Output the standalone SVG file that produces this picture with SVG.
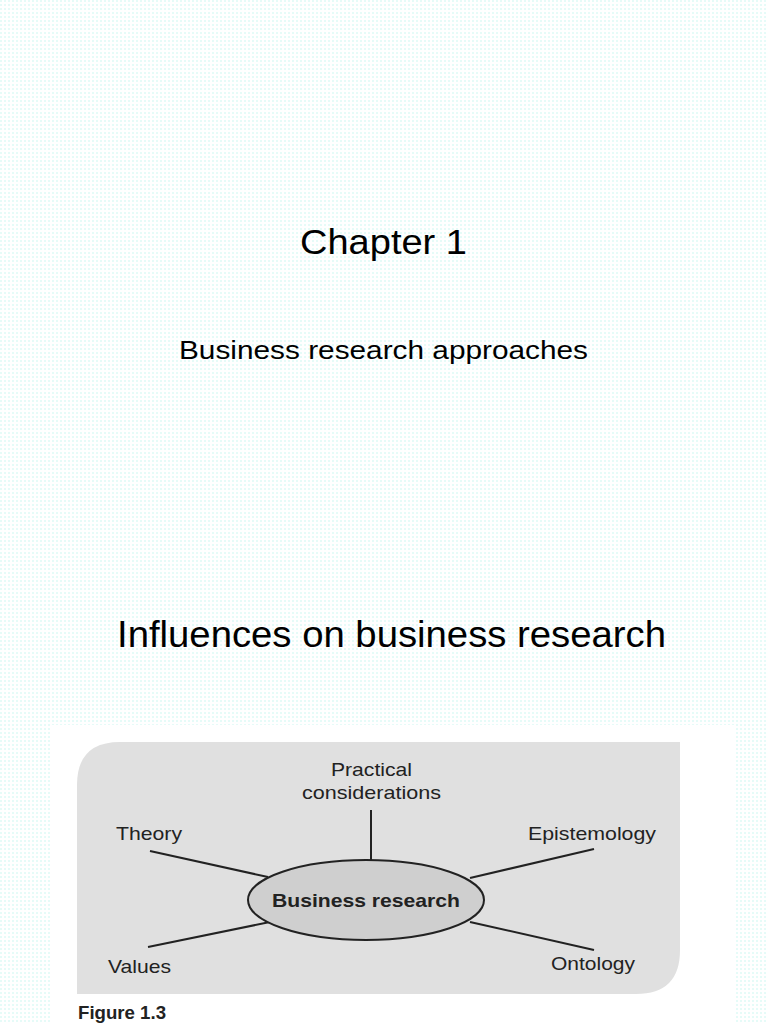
<svg xmlns="http://www.w3.org/2000/svg" width="768" height="1024" viewBox="0 0 768 1024">
<defs>
<pattern id="dots" width="4" height="4" patternUnits="userSpaceOnUse"><rect width="4" height="4" fill="#ffffff"/><rect width="2" height="2" fill="#e6fbf8"/></pattern>
<style>
.t{font-family:"Liberation Sans",Arial,sans-serif;fill:#000}
.f{font-family:"Liberation Sans",Arial,sans-serif;fill:#222;font-size:19px}
.c{stroke:#222;stroke-width:2;fill:none}
</style>
</defs>
<rect width="768" height="1024" fill="url(#dots)"/>
<text class="t" x="300" y="254" font-size="35" textLength="167" lengthAdjust="spacingAndGlyphs">Chapter 1</text>
<text class="t" x="179" y="359" font-size="26" textLength="409" lengthAdjust="spacingAndGlyphs">Business research approaches</text>
<text class="t" x="117" y="647" font-size="36" textLength="549" lengthAdjust="spacingAndGlyphs">Influences on business research</text>
<rect x="52" y="725" width="684" height="299" fill="#ffffff"/>
<path d="M120 742 H680 V950 Q680 994 636 994 H77 V785 Q77 742 120 742 Z" fill="#e0e0e0"/>
<g id="connectors">
<line class="c" x1="371" y1="810" x2="371" y2="860"/>
<line class="c" x1="150" y1="851" x2="268" y2="877"/>
<line class="c" x1="594" y1="849" x2="470" y2="878"/>
<line class="c" x1="148" y1="947" x2="270" y2="922"/>
<line class="c" x1="594" y1="950" x2="470" y2="922"/>
</g>
<g id="center"><ellipse cx="366" cy="900" rx="118" ry="40" fill="#cfcfcf" stroke="#222" stroke-width="2"/>
<text class="f" x="272" y="907" font-weight="bold" textLength="188" lengthAdjust="spacingAndGlyphs">Business research</text></g>
<g id="practical"><text class="f" x="331" y="776" textLength="81" lengthAdjust="spacingAndGlyphs">Practical</text><text class="f" x="302" y="799" textLength="139" lengthAdjust="spacingAndGlyphs">considerations</text></g>
<g id="theory"><text class="f" x="116" y="840" textLength="66" lengthAdjust="spacingAndGlyphs">Theory</text></g>
<g id="epistemology"><text class="f" x="528" y="840" textLength="128" lengthAdjust="spacingAndGlyphs">Epistemology</text></g>
<g id="values"><text class="f" x="108" y="973" textLength="63" lengthAdjust="spacingAndGlyphs">Values</text></g>
<g id="ontology"><text class="f" x="551" y="970" textLength="84" lengthAdjust="spacingAndGlyphs">Ontology</text></g>
<text class="f" x="78" y="1019" font-weight="bold" textLength="88" lengthAdjust="spacingAndGlyphs">Figure 1.3</text>
</svg>
